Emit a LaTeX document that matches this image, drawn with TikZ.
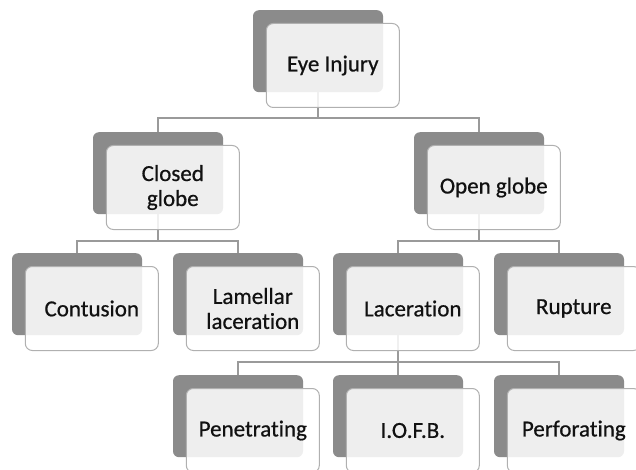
\documentclass[tikz,border=0pt]{standalone}
\usepackage{fontspec}
\setmainfont[Ligatures=NoCommon,FakeBold=0.6]{Carlito}
\definecolor{backgray}{HTML}{8B8B8B}
\definecolor{cardline}{HTML}{B0B0B0}
\definecolor{linkcol}{HTML}{9A9A9A}
\definecolor{textcol}{HTML}{111111}
\begin{document}
\begin{tikzpicture}[x=1pt,y=-1pt,
  back/.style={rectangle, rounded corners=6pt, fill=backgray, minimum width=130pt, minimum height=82pt, inner sep=0pt, anchor=north},
  card/.style={rectangle, rounded corners=7pt, draw=cardline, line width=1pt, fill=white, fill opacity=0.86, text opacity=1, minimum width=133pt, minimum height=84pt, inner sep=2pt, font=\fontsize{23}{25}\selectfont, align=center, text=textcol, anchor=north west},
  link/.style={draw=linkcol, line width=1.1pt}]
\path[use as bounding box] (0,0) rectangle (636,470);
\clip (0,0) rectangle (636,470);
\fill[white] (0,0) rectangle (636,470);
% back plates
\node[back] (eyeB) at (318,10) {};
\node[back] (closedB) at (158,132) {};
\node[back] (openB) at (479,132) {};
\node[back] (contB) at (77,253) {};
\node[back] (lamB) at (238,253) {};
\node[back] (lacB) at (398,253) {};
\node[back] (rupB) at (559,253) {};
\node[back] (penB) at (238,375) {};
\node[back] (iofbB) at (398,375) {};
\node[back] (perfB) at (559,375) {};
% bar coordinates
\coordinate (bar0) at (318,118);
\coordinate (bar1) at (158,241);
\coordinate (bar2) at (479,241);
\coordinate (bar3) at (398,362);
% connectors
\draw[link] (eyeB.south) -- (eyeB.south |- bar0) -| (closedB.north);
\draw[link] (eyeB.south |- bar0) -| (openB.north);
\draw[link] (closedB.south) -- (closedB.south |- bar1) -| (contB.north);
\draw[link] (closedB.south |- bar1) -| (lamB.north);
\draw[link] (openB.south) -- (openB.south |- bar2) -| (lacB.north);
\draw[link] (openB.south |- bar2) -| (rupB.north);
\draw[link] (lacB.south) -- (lacB.south |- bar3) -| (penB.north);
\draw[link] (lacB.south |- bar3) -- (iofbB.north);
\draw[link] (lacB.south |- bar3) -| (perfB.north);
% front cards
\node[card] (eye) at ([shift={(13,13)}]eyeB.north west) {Eye Injury};
\node[card] (closed) at ([shift={(13,13)}]closedB.north west) {Closed\\globe};
\node[card] (open) at ([shift={(13,13)}]openB.north west) {Open globe};
\node[card] (cont) at ([shift={(13,13)}]contB.north west) {Contusion};
\node[card] (lam) at ([shift={(13,13)}]lamB.north west) {Lamellar\\laceration};
\node[card] (lac) at ([shift={(13,13)}]lacB.north west) {Laceration};
\node[card] (rup) at ([shift={(13,13)}]rupB.north west) {Rupture};
\node[card] (pen) at ([shift={(13,13)}]penB.north west) {Penetrating};
\node[card] (iofb) at ([shift={(13,13)}]iofbB.north west) {I.O.F.B.};
\node[card] (perf) at ([shift={(13,13)}]perfB.north west) {Perforating};
\end{tikzpicture}
\end{document}
